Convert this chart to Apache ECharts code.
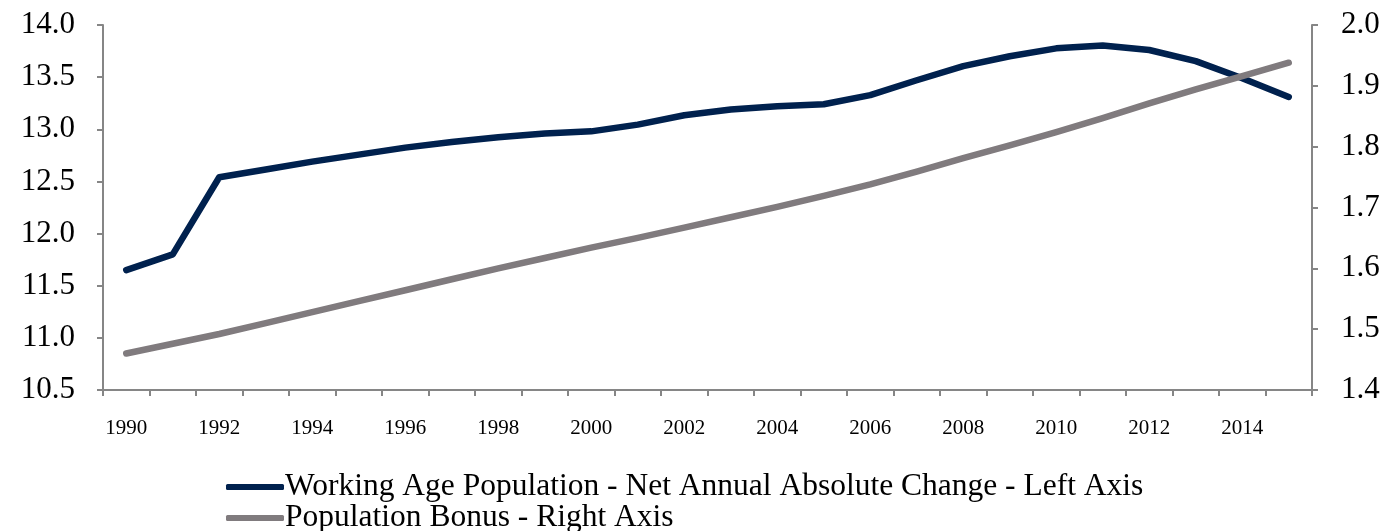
<!DOCTYPE html>
<html>
<head>
<meta charset="utf-8">
<script src="https://cdn.jsdelivr.net/npm/echarts@6/dist/echarts.min.js"></script>
<style>
  html, body { margin: 0; padding: 0; background: #fff; }
  #chart { width: 1397px; height: 531px; }
</style>
</head>
<body>
<div id="chart"></div>
<script>
// Years on the horizontal axis
const years = ['1990','1991','1992','1993','1994','1995','1996','1997','1998','1999',
               '2000','2001','2002','2003','2004','2005','2006','2007','2008','2009',
               '2010','2011','2012','2013','2014','2015'];

// Working age population, net annual absolute change (left axis)
const workingAge = [11.65, 11.80, 12.54, 12.615, 12.69, 12.757, 12.824, 12.878, 12.923, 12.96,
                    12.98, 13.045, 13.135, 13.19, 13.22, 13.24, 13.327, 13.47, 13.606, 13.70,
                    13.776, 13.804, 13.76, 13.654, 13.49, 13.31];

// Population bonus (right axis)
const popBonus = [1.460, 1.476, 1.492, 1.510, 1.528, 1.546, 1.564, 1.582, 1.600, 1.617,
                  1.634, 1.650, 1.667, 1.684, 1.701, 1.719, 1.738, 1.759, 1.781, 1.802,
                  1.824, 1.847, 1.871, 1.894, 1.916, 1.938];

const seriesNames = ['Working Age Population - Net Annual Absolute Change - Left Axis',
                     'Population Bonus - Right Axis'];

const FONT = '"Liberation Serif", "Times New Roman", serif';
const AXIS_GREY = '#868686';
const NAVY = '#00214E';
const GREY = '#807B7E';

const chart = echarts.init(document.getElementById('chart'), null, { renderer: 'canvas' });

// one legend block per series, stacked vertically under the plot
function legendRow(name, top) {
  return {
    left: 226,
    top: top,
    padding: 0,
    itemWidth: 58,
    itemHeight: 6,
    icon: 'roundRect',
    textStyle: {
      fontFamily: FONT,
      fontSize: 31.5,
      color: '#000',
      padding: [0, 0, 0, -4]
    },
    data: [name]
  };
}

chart.setOption({
  animation: false,
  backgroundColor: '#ffffff',
  grid: { left: 103, right: 85, top: 25, bottom: 141, containLabel: false },
  legend: [
    legendRow(seriesNames[0], 471),
    legendRow(seriesNames[1], 502)
  ],
  xAxis: {
    type: 'category',
    data: years,
    boundaryGap: true,
    axisLine: { lineStyle: { color: AXIS_GREY, width: 2 } },
    axisTick: { show: true, interval: 0, length: 6, lineStyle: { color: AXIS_GREY, width: 2 } },
    axisLabel: {
      interval: 1,
      fontFamily: FONT,
      fontSize: 21,
      color: '#000',
      margin: 28
    },
    splitLine: { show: false }
  },
  yAxis: [
    {
      type: 'value',
      min: 10.5,
      max: 14.0,
      interval: 0.5,
      position: 'left',
      axisLine: { show: true, lineStyle: { color: AXIS_GREY, width: 2 } },
      axisTick: { show: true, length: 6, lineStyle: { color: AXIS_GREY, width: 2 } },
      axisLabel: {
        fontFamily: FONT,
        fontSize: 31,
        color: '#000',
        margin: 28,
        formatter: v => v.toFixed(1)
      },
      splitLine: { show: false }
    },
    {
      type: 'value',
      min: 1.4,
      max: 2.0,
      interval: 0.1,
      position: 'right',
      axisLine: { show: true, lineStyle: { color: AXIS_GREY, width: 2 } },
      axisTick: { show: true, length: 6, lineStyle: { color: AXIS_GREY, width: 2 } },
      axisLabel: {
        fontFamily: FONT,
        fontSize: 31,
        color: '#000',
        margin: 29,
        formatter: v => v.toFixed(1)
      },
      splitLine: { show: false }
    }
  ],
  series: [
    {
      name: seriesNames[0],
      type: 'line',
      yAxisIndex: 0,
      data: workingAge,
      symbol: 'none',
      color: NAVY,
      lineStyle: { color: NAVY, width: 6.5, cap: 'round', join: 'round' },
      itemStyle: { color: NAVY },
      z: 3
    },
    {
      name: seriesNames[1],
      type: 'line',
      yAxisIndex: 1,
      data: popBonus,
      symbol: 'none',
      color: GREY,
      lineStyle: { color: GREY, width: 6.5, cap: 'round', join: 'round' },
      itemStyle: { color: GREY },
      z: 4
    }
  ]
});
</script>
</body>
</html>
